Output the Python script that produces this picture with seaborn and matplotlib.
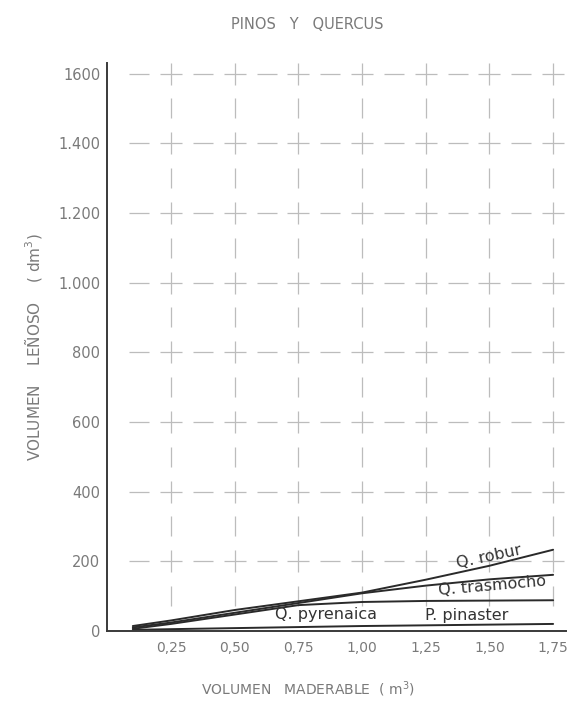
import numpy as np
import pandas as pd
import seaborn as sns
import matplotlib.pyplot as plt

# --- data ---
x_vals = [0.10, 0.25, 0.50, 0.75, 1.00, 1.25, 1.50, 1.75]
robur = [14, 30, 60, 85, 110, 147, 187, 233]
trasmocho = [10, 24, 52, 80, 108, 130, 148, 161]
pyrenaica = [6, 20, 47, 74, 83, 86, 87, 88]
pinaster = [3, 5, 8, 11, 14, 16, 18, 20]

x_ticks = [0.25, 0.50, 0.75, 1.00, 1.25, 1.50, 1.75]
x_ticklabels = ["0,25", "0,50", "0,75", "1,00", "1,25", "1,50", "1,75"]
y_ticks = [0, 200, 400, 600, 800, 1000, 1200, 1400, 1600]
y_ticklabels = ["0", "200", "400", "600", "800", "1.000", "1.200", "1.400", "1600"]

series = {
    "Q. robur": robur,
    "Q. trasmocho": trasmocho,
    "Q. pyrenaica": pyrenaica,
    "P. pinaster": pinaster,
}
df = pd.concat(
    [pd.DataFrame({"x": x_vals, "y": v, "especie": k}) for k, v in series.items()],
    ignore_index=True,
)

sns.set_style("white")
plt.rcParams['font.family'] = ['DejaVu Sans']

fig = plt.figure(figsize=(5.71, 7.01), dpi=100)
ax = fig.add_axes([0.188, 0.1, 0.803, 0.81])

ink = "#3a3a3a"
grey = "#7a7a7a"
gridc = "#bcbcbc"

sns.lineplot(data=df, x="x", y="y", units="especie", estimator=None,
             color="#2a2a2a", linewidth=1.4, ax=ax, legend=False)

# grid drawn as crosses at intersections and single dashes between them
gx, gy = np.meshgrid(x_ticks, y_ticks[1:])
ax.plot(gx.ravel(), gy.ravel(), ls="none", marker="+", ms=16, mew=0.9,
        color=gridc, zorder=0)
x_mid = [0.125] + [(a + b) / 2 for a, b in zip(x_ticks[:-1], x_ticks[1:])]
y_mid = [(a + b) / 2 for a, b in zip(y_ticks[:-1], y_ticks[1:])]
hx, hy = np.meshgrid(x_mid, y_ticks[1:])
ax.plot(hx.ravel(), hy.ravel(), ls="none", marker="_", ms=14, mew=0.9,
        color=gridc, zorder=0)
vx, vy = np.meshgrid(x_ticks, y_mid)
ax.plot(vx.ravel(), vy.ravel(), ls="none", marker="|", ms=15, mew=0.9,
        color=gridc, zorder=0)

ax.set_xlim(0, 1.80)
ax.set_ylim(0, 1630)
ax.set_xticks(x_ticks)
ax.set_xticklabels(x_ticklabels)
ax.set_yticks(y_ticks)
ax.set_yticklabels(y_ticklabels)
ax.tick_params(axis="x", colors=grey, labelsize=10, length=0, pad=7)
ax.tick_params(axis="y", colors=grey, labelsize=10.5, length=0, pad=5)

for s in ["top", "right"]:
    ax.spines[s].set_visible(False)
for s in ["left", "bottom"]:
    ax.spines[s].set_color(ink)
    ax.spines[s].set_linewidth(1.4)

ax.set_xlabel("VOLUMEN   MADERABLE  ( m$^3$)", color=grey, fontsize=10, labelpad=20)
ax.xaxis.set_label_coords(0.437, -0.085)
ax.set_ylabel("VOLUMEN    LEÑOSO    ( dm$^3$)", color=grey, fontsize=11, labelpad=10)
fig.text(0.538, 0.958, "PINOS   Y   QUERCUS", color=grey, fontsize=10.5, ha="center")

# curve labels
lab_kw = dict(color="#333333", fontsize=11.5, ha="center", va="center")
ax.text(1.50, 214, "Q. robur", rotation=12, **lab_kw)
ax.text(1.51, 128, "Q. trasmocho", rotation=5, **lab_kw)
ax.text(0.86, 46, "Q. pyrenaica", **lab_kw)
ax.text(1.41, 44, "P. pinaster", **lab_kw)

fig.savefig("out.png", dpi=100)
